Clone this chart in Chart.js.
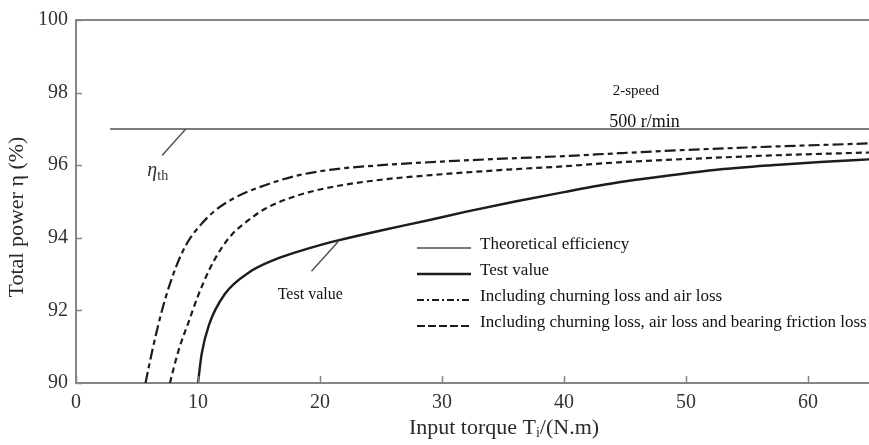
<!DOCTYPE html>
<html>
<head>
<meta charset="utf-8">
<script src="https://cdn.jsdelivr.net/npm/chart.js@4.4.1/dist/chart.umd.min.js"></script>
<style>
  html, body { margin: 0; padding: 0; background: #ffffff; }
  #caja { width: 869px; height: 445px; }
</style>
</head>
<body>
<div id="caja"><canvas id="graficoEficiencia" width="869" height="445"></canvas></div>
<script>
// Valores leídos por curva: par torque (N.m) / eficiencia (%)
const torqueTeorico = [2.8, 65];
const eficienciaTeorica = [97, 97];

const torquePrueba = [10.0, 10.3, 10.9, 12.2, 14.2, 16.3, 18.2, 20, 21.4, 25, 28.7, 32, 36, 40, 44.5, 48, 52.7, 57, 61, 65];
const eficienciaPrueba = [90, 90.8, 91.6, 92.45, 93.05, 93.4, 93.62, 93.8, 93.92, 94.2, 94.47, 94.72, 95.0, 95.26, 95.53, 95.69, 95.88, 96.0, 96.09, 96.16];

const torqueBatidoAire = [5.7, 6.0, 6.6, 7.3, 8.2, 9.1, 10.2, 11.4, 13, 15.5, 18.2, 21, 25, 30, 35, 40, 44.5, 50, 56, 65];
const eficienciaBatidoAire = [90, 90.5, 91.4, 92.3, 93.2, 93.85, 94.35, 94.75, 95.1, 95.45, 95.72, 95.88, 96.0, 96.1, 96.18, 96.25, 96.33, 96.42, 96.5, 96.6];

const torqueConRodamientos = [7.7, 8.0, 8.5, 9.2, 10, 10.9, 11.8, 12.8, 14, 15.5, 18.2, 21, 25, 30, 35, 40, 44.5, 50, 57, 65];
const eficienciaConRodamientos = [90, 90.4, 91.0, 91.65, 92.4, 93.1, 93.65, 94.1, 94.45, 94.8, 95.17, 95.4, 95.6, 95.75, 95.87, 95.97, 96.08, 96.17, 96.27, 96.35];

const ticksX = [0, 10, 20, 30, 40, 50, 60];
const ticksY = [90, 92, 94, 96, 98, 100];

const etiquetasLeyenda = [
  'Theoretical efficiency',
  'Test value',
  'Including churning loss and air loss',
  'Including churning loss, air loss and bearing friction loss'
];

const SERIF = '"Liberation Serif", "Times New Roman", serif';
const GRIS_EJE = '#858585';
const NEGRO = '#1c1c1c';

function puntos(xs, ys) {
  return xs.map((x, i) => ({ x, y: ys[i] }));
}

// Marco superior, marcas de graduación hacia dentro, títulos, notas y leyenda
const pluginDecorado = {
  id: 'pluginDecorado',
  afterDraw(chart) {
    const { ctx, chartArea: area, scales: { x, y } } = chart;
    ctx.save();

    // línea superior del marco
    ctx.strokeStyle = GRIS_EJE;
    ctx.lineWidth = 2;
    ctx.beginPath();
    ctx.moveTo(area.left, area.top);
    ctx.lineTo(area.right, area.top);
    ctx.stroke();

    // marcas de graduación
    ctx.lineWidth = 1.5;
    ticksX.forEach(v => {
      const px = Math.round(x.getPixelForValue(v)) + 0.5;
      ctx.beginPath();
      ctx.moveTo(px, area.bottom);
      ctx.lineTo(px, area.bottom - 7);
      ctx.stroke();
    });
    ticksY.forEach(v => {
      const py = Math.round(y.getPixelForValue(v)) + 0.5;
      ctx.beginPath();
      ctx.moveTo(area.left, py);
      ctx.lineTo(area.left + 6, py);
      ctx.stroke();
    });

    // título eje Y
    ctx.fillStyle = '#2a2a2a';
    ctx.font = `22px ${SERIF}`;
    ctx.textAlign = 'center';
    ctx.textBaseline = 'middle';
    ctx.save();
    ctx.translate(17, 217);
    ctx.rotate(-Math.PI / 2);
    ctx.fillText('Total power \u03b7 (%)', 0, 0);
    ctx.restore();

    // título eje X con subíndice
    const partes = ['Input torque T', 'i', '/(N.m)'];
    ctx.font = `22px ${SERIF}`;
    const w0 = ctx.measureText(partes[0]).width;
    const w2 = ctx.measureText(partes[2]).width;
    ctx.font = `14px ${SERIF}`;
    const w1 = ctx.measureText(partes[1]).width;
    let xt = 504 - (w0 + w1 + w2) / 2;
    const yt = 428;
    ctx.textAlign = 'left';
    ctx.font = `22px ${SERIF}`;
    ctx.fillText(partes[0], xt, yt);
    xt += w0;
    ctx.font = `14px ${SERIF}`;
    ctx.fillText(partes[1], xt, yt + 5);
    xt += w1;
    ctx.font = `22px ${SERIF}`;
    ctx.fillText(partes[2], xt, yt);

    // notas de velocidad
    ctx.fillStyle = '#111';
    ctx.textAlign = 'center';
    ctx.font = `15px ${SERIF}`;
    ctx.fillText('2-speed', x.getPixelForValue(45.9), y.getPixelForValue(98.05));
    ctx.font = `18px ${SERIF}`;
    ctx.fillText('500 r/min', x.getPixelForValue(46.6), y.getPixelForValue(97.18));

    // líneas guía de etiquetas
    ctx.strokeStyle = '#555';
    ctx.lineWidth = 1.5;
    ctx.beginPath();
    ctx.moveTo(x.getPixelForValue(9.0), y.getPixelForValue(97));
    ctx.lineTo(x.getPixelForValue(7.05), y.getPixelForValue(96.27));
    ctx.moveTo(x.getPixelForValue(21.5), y.getPixelForValue(93.9));
    ctx.lineTo(x.getPixelForValue(19.3), y.getPixelForValue(93.08));
    ctx.stroke();

    // η_th
    const ex = x.getPixelForValue(6.25);
    const ey = y.getPixelForValue(95.8);
    ctx.fillStyle = '#333';
    ctx.textAlign = 'center';
    ctx.font = `italic 20px ${SERIF}`;
    ctx.fillText('\u03b7', ex, ey - 2);
    ctx.textAlign = 'left';
    ctx.font = `14px ${SERIF}`;
    ctx.fillText('th', ex + 5, ey + 4);

    // etiqueta de la curva de prueba
    ctx.fillStyle = '#111';
    ctx.textAlign = 'center';
    ctx.font = `16px ${SERIF}`;
    ctx.fillText('Test value', x.getPixelForValue(19.2), y.getPixelForValue(92.43));

    // leyenda propia con el estilo de cada conjunto
    const x0 = 417, x1 = 471, xtxt = 480;
    chart.data.datasets.forEach((ds, fila) => {
      const yl = 248 + fila * 26;
      ctx.strokeStyle = ds.borderColor;
      ctx.lineWidth = ds.borderWidth;
      ctx.setLineDash(ds.legendDash || []);
      ctx.beginPath();
      ctx.moveTo(x0, yl);
      ctx.lineTo(x1, yl);
      ctx.stroke();
      ctx.setLineDash([]);
      ctx.fillStyle = '#111';
      ctx.textAlign = 'left';
      ctx.textBaseline = 'middle';
      ctx.font = `17px ${SERIF}`;
      ctx.fillText(ds.label, xtxt, yl - 3);
    });

    ctx.restore();
  }
};

const grafico = new Chart(document.getElementById('graficoEficiencia'), {
  type: 'line',
  data: {
    datasets: [
      {
        label: etiquetasLeyenda[0],
        data: puntos(torqueTeorico, eficienciaTeorica),
        borderColor: '#7a7a7a',
        borderWidth: 2,
        pointRadius: 0
      },
      {
        label: etiquetasLeyenda[1],
        data: puntos(torquePrueba, eficienciaPrueba),
        borderColor: NEGRO,
        borderWidth: 2.4,
        pointRadius: 0,
        cubicInterpolationMode: 'monotone'
      },
      {
        label: etiquetasLeyenda[2],
        data: puntos(torqueBatidoAire, eficienciaBatidoAire),
        borderColor: NEGRO,
        borderWidth: 2.2,
        borderDash: [11, 4, 5, 4],
        legendDash: [7, 3, 2, 3],
        pointRadius: 0,
        cubicInterpolationMode: 'monotone'
      },
      {
        label: etiquetasLeyenda[3],
        data: puntos(torqueConRodamientos, eficienciaConRodamientos),
        borderColor: NEGRO,
        borderWidth: 2.2,
        borderDash: [6, 4],
        legendDash: [8, 3],
        pointRadius: 0,
        cubicInterpolationMode: 'monotone'
      }
    ]
  },
  options: {
    responsive: false,
    animation: false,
    layout: { padding: { top: 16, right: 0, left: 0, bottom: 0 } },
    plugins: {
      legend: { display: false },
      tooltip: { enabled: false }
    },
    scales: {
      x: {
        type: 'linear',
        min: 0,
        max: 65,
        grid: { display: false, drawTicks: false },
        border: { display: true, color: GRIS_EJE, width: 2 },
        afterBuildTicks: s => { s.ticks = ticksX.map(v => ({ value: v })); },
        afterFit: s => { s.height = 62; },
        ticks: {
          color: '#333',
          padding: 8,
          maxRotation: 0,
          font: { family: SERIF, size: 20 }
        }
      },
      y: {
        type: 'linear',
        min: 90,
        max: 100,
        grid: { display: false, drawTicks: false },
        border: { display: true, color: GRIS_EJE, width: 2 },
        afterBuildTicks: s => { s.ticks = ticksY.map(v => ({ value: v })); },
        afterFit: s => { s.width = 76; },
        ticks: {
          color: '#333',
          padding: 8,
          font: { family: SERIF, size: 20 }
        }
      }
    }
  },
  plugins: [pluginDecorado]
});
</script>
</body>
</html>
